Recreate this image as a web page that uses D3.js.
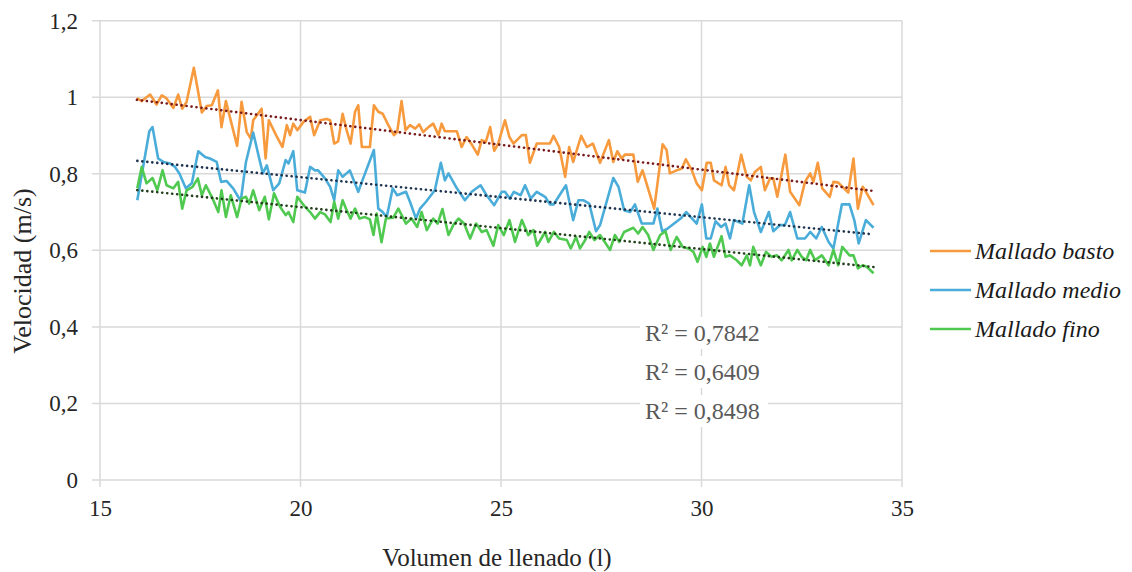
<!DOCTYPE html>
<html><head><meta charset="utf-8">
<script src="https://cdn.jsdelivr.net/npm/d3@7"></script>
<style>body{margin:0;background:#fff}</style>
</head><body>
<svg id="c" width="1132" height="572"></svg>
<script>
const xTicks = [15, 20, 25, 30, 35];
const yTicks = [0, 0.2, 0.4, 0.6, 0.8, 1, 1.2];
const seriesNames = ["Mallado basto", "Mallado medio", "Mallado fino"];
const r2Labels = ["R² = 0,7842", "R² = 0,6409", "R² = 0,8498"];
const xTitle = "Volumen de llenado (l)";
const yTitle = "Velocidad (m/s)";

const basto = [[15.92,0.998],[16.04,0.990],[16.25,1.007],[16.41,0.981],[16.54,1.005],[16.66,0.997],[16.83,0.972],[16.95,1.007],[17.05,0.970],[17.16,0.988],[17.34,1.077],[17.54,0.960],[17.66,0.977],[17.79,0.979],[17.94,1.018],[18.03,0.922],[18.14,0.990],[18.28,0.931],[18.42,0.873],[18.53,0.988],[18.66,0.909],[18.76,0.892],[18.82,0.940],[19.03,0.970],[19.13,0.840],[19.21,0.940],[19.39,0.901],[19.55,0.870],[19.66,0.927],[19.74,0.901],[19.82,0.931],[19.92,0.914],[20.07,0.935],
[20.24,0.949],[20.34,0.901],[20.49,0.940],[20.65,0.943],[20.74,0.940],[20.84,0.879],[20.94,0.885],[21.05,0.957],[21.15,0.914],[21.25,0.879],[21.36,0.962],[21.44,0.979],[21.53,0.870],[21.73,0.870],[21.83,0.979],[21.94,0.962],[22.05,0.957],[22.19,0.927],[22.33,0.901],[22.41,0.909],[22.52,0.990],[22.62,0.914],[22.73,0.927],[22.86,0.918],[22.96,0.929],[23.06,0.909],[23.19,0.922],[23.31,0.931],[23.44,0.901],[23.52,0.931],[23.60,0.911],[23.90,0.911],[24.02,0.870],[24.14,0.896],[24.28,0.875],[24.42,0.850],[24.52,0.888],[24.62,0.883],[24.73,0.922],[24.83,0.860],[24.93,0.879],
[25.10,0.940],[25.21,0.896],[25.31,0.879],[25.52,0.901],[25.62,0.901],[25.72,0.829],[25.89,0.879],[26.22,0.879],[26.31,0.899],[26.45,0.870],[26.60,0.792],[26.70,0.870],[26.80,0.831],[27.00,0.899],[27.14,0.870],[27.29,0.879],[27.47,0.829],[27.69,0.888],[27.80,0.831],[27.90,0.859],[28.01,0.840],[28.09,0.850],[28.30,0.850],[28.41,0.779],[28.53,0.809],[28.82,0.709],[29.03,0.877],[29.13,0.862],[29.21,0.801],[29.38,0.809],[29.51,0.814],[29.61,0.838],[29.76,0.809],[29.88,0.775],
[30.01,0.757],[30.13,0.829],[30.23,0.829],[30.31,0.783],[30.50,0.770],[30.60,0.818],[30.69,0.770],[30.81,0.757],[30.99,0.850],[31.13,0.792],[31.23,0.783],[31.33,0.805],[31.48,0.818],[31.58,0.757],[31.71,0.788],[31.79,0.788],[31.89,0.740],[32.09,0.850],[32.21,0.753],[32.33,0.735],[32.44,0.718],[32.58,0.779],[32.71,0.801],[32.79,0.779],[32.90,0.829],[33.01,0.762],[33.20,0.740],[33.29,0.779],[33.41,0.777],[33.66,0.751],[33.79,0.840],[33.90,0.709],[34.02,0.766],[34.10,0.753],[34.29,0.718]];

const medio = [[15.93,0.731],[16.23,0.911],[16.31,0.922],[16.45,0.840],[16.58,0.831],[16.75,0.827],[16.87,0.818],[16.98,0.801],[17.14,0.762],[17.29,0.775],[17.45,0.859],[17.62,0.844],[17.74,0.840],[17.91,0.831],[18.02,0.779],[18.16,0.781],[18.32,0.762],[18.51,0.729],[18.64,0.831],[18.82,0.908],[18.95,0.849],[19.06,0.801],[19.16,0.822],[19.32,0.757],[19.47,0.775],[19.63,0.836],[19.70,0.827],[19.82,0.859],[19.92,0.757],[20.11,0.751],
[20.24,0.818],[20.36,0.809],[20.44,0.809],[20.61,0.788],[20.74,0.766],[20.84,0.731],[20.94,0.809],[21.05,0.792],[21.23,0.809],[21.44,0.753],[21.53,0.779],[21.83,0.862],[21.94,0.709],[22.05,0.700],[22.15,0.687],[22.30,0.762],[22.41,0.744],[22.63,0.753],[22.73,0.727],[22.88,0.683],[22.98,0.709],[23.13,0.727],[23.35,0.757],[23.50,0.829],[23.60,0.783],[23.69,0.801],[23.90,0.762],[24.10,0.731],[24.27,0.753],[24.49,0.770],[24.64,0.744],[24.83,0.718],[25.02,0.753],
[25.10,0.753],[25.22,0.735],[25.32,0.753],[25.49,0.744],[25.60,0.770],[25.74,0.735],[25.89,0.753],[26.10,0.740],[26.22,0.720],[26.31,0.720],[26.62,0.770],[26.80,0.679],[26.93,0.731],[27.05,0.731],[27.20,0.722],[27.37,0.650],[27.47,0.666],[27.80,0.789],[27.93,0.766],[28.07,0.705],[28.22,0.700],[28.34,0.720],[28.51,0.670],[28.80,0.670],[28.90,0.709],[29.02,0.650],[29.13,0.655],[29.48,0.683],[29.62,0.700],[29.88,0.670],
[30.01,0.720],[30.12,0.631],[30.23,0.631],[30.35,0.676],[30.49,0.661],[30.60,0.670],[30.71,0.631],[30.81,0.679],[31.02,0.670],[31.19,0.770],[31.31,0.700],[31.48,0.648],[31.68,0.700],[31.79,0.650],[31.96,0.666],[32.08,0.666],[32.21,0.700],[32.39,0.631],[32.58,0.631],[32.71,0.648],[32.86,0.631],[33.00,0.661],[33.17,0.622],[33.29,0.605],[33.50,0.720],[33.69,0.720],[33.81,0.679],[33.92,0.618],[34.10,0.679],[34.29,0.659]];

const fino = [[15.93,0.762],[16.04,0.818],[16.16,0.775],[16.31,0.789],[16.43,0.757],[16.56,0.809],[16.66,0.770],[16.83,0.762],[16.95,0.779],[17.05,0.709],[17.16,0.757],[17.31,0.766],[17.44,0.788],[17.54,0.744],[17.64,0.770],[17.81,0.735],[17.95,0.700],[18.03,0.757],[18.14,0.687],[18.26,0.744],[18.42,0.687],[18.53,0.735],[18.64,0.740],[18.72,0.722],[18.82,0.757],[18.97,0.705],[19.11,0.740],[19.21,0.681],[19.34,0.749],[19.49,0.714],[19.63,0.692],[19.70,0.700],[19.82,0.674],[19.92,0.740],[20.11,0.714],
[20.24,0.700],[20.36,0.683],[20.49,0.700],[20.61,0.694],[20.75,0.674],[20.84,0.727],[20.94,0.683],[21.05,0.731],[21.15,0.705],[21.25,0.683],[21.36,0.709],[21.47,0.683],[21.61,0.687],[21.73,0.681],[21.82,0.640],[21.90,0.696],[22.02,0.621],[22.13,0.683],[22.31,0.685],[22.44,0.709],[22.63,0.670],[22.77,0.683],[22.91,0.661],[23.02,0.700],[23.15,0.653],[23.31,0.683],[23.42,0.670],[23.54,0.708],[23.69,0.640],[23.81,0.666],[23.94,0.683],[24.08,0.670],[24.23,0.631],[24.38,0.670],[24.52,0.648],[24.64,0.653],[24.81,0.612],[24.93,0.666],
[25.07,0.640],[25.21,0.679],[25.35,0.622],[25.52,0.679],[25.68,0.640],[25.81,0.653],[25.90,0.612],[26.10,0.648],[26.18,0.622],[26.32,0.648],[26.45,0.631],[26.64,0.627],[26.74,0.605],[26.87,0.635],[26.97,0.605],[27.10,0.627],[27.20,0.648],[27.33,0.627],[27.47,0.640],[27.72,0.601],[27.84,0.640],[27.95,0.622],[28.07,0.648],[28.30,0.659],[28.42,0.644],[28.53,0.661],[28.67,0.640],[28.80,0.601],[28.97,0.640],[29.10,0.650],[29.23,0.601],[29.38,0.635],[29.53,0.609],[29.68,0.605],[29.80,0.596],
[29.90,0.570],[30.03,0.609],[30.12,0.583],[30.21,0.618],[30.31,0.583],[30.50,0.637],[30.60,0.583],[30.71,0.587],[30.88,0.574],[31.00,0.561],[31.13,0.587],[31.21,0.561],[31.29,0.609],[31.48,0.561],[31.61,0.596],[31.75,0.583],[31.88,0.587],[32.00,0.574],[32.17,0.601],[32.25,0.574],[32.39,0.601],[32.50,0.583],[32.61,0.574],[32.71,0.601],[32.83,0.574],[33.00,0.587],[33.17,0.561],[33.29,0.601],[33.41,0.561],[33.51,0.609],[33.69,0.587],[33.79,0.587],[33.90,0.553],[34.02,0.561],[34.12,0.557],[34.29,0.540]];

const colors = ["#F79A3E", "#4AADD9", "#4FC94F"];
const trendColors = ["#7a1a1a", "#1f3550", "#24401c"];
const allSeries = [basto, medio, fino];

const svg = d3.select("#c");
const m = {l: 100, r: 902, t: 20.7, b: 480};
const x = d3.scaleLinear().domain([15, 35]).range([m.l, m.r]);
const y = d3.scaleLinear().domain([0, 1.2]).range([m.b, m.t]);
const grid = "#d9d9d9";
const FS = 24;
const serif = (t, fs) => t.attr("font-family", "Liberation Serif").attr("font-size", fs || FS);

// gridlines
svg.append("g").selectAll("line").data(yTicks).join("line")
  .attr("x1", m.l - 8).attr("x2", m.r).attr("y1", d => y(d)).attr("y2", d => y(d))
  .attr("stroke", grid).attr("stroke-width", 1.5);
svg.append("g").selectAll("line").data(xTicks).join("line")
  .attr("x1", d => x(d)).attr("x2", d => x(d)).attr("y1", m.t).attr("y2", m.b + 7)
  .attr("stroke", grid).attr("stroke-width", 1.5);

// axes labels via d3 axes
const yAxis = svg.append("g").attr("transform", `translate(${m.l - 8},0)`)
  .call(d3.axisLeft(y).tickValues(yTicks).tickSize(0).tickPadding(14)
    .tickFormat(d => String(d).replace(".", ",")));
const xAxis = svg.append("g").attr("transform", `translate(0,${m.b + 7})`)
  .call(d3.axisBottom(x).tickValues(xTicks).tickSize(0).tickPadding(13));
[yAxis, xAxis].forEach(a => {
  a.attr("font-family", "Liberation Serif").attr("font-size", 23);
  a.select(".domain").remove();
  a.selectAll("text").call(serif, 23).attr("fill", "#262626");
});

// series lines
const line = d3.line().x(d => x(d[0])).y(d => y(d[1]));
allSeries.forEach((s, i) => {
  svg.append("path").datum(s).attr("d", line).attr("fill", "none")
    .attr("stroke", colors[i]).attr("stroke-width", 2.6).attr("stroke-linejoin", "round");
});

// linear trendlines (least squares on the data)
allSeries.forEach((s, i) => {
  const n = s.length;
  const mx = d3.mean(s, d => d[0]), my = d3.mean(s, d => d[1]);
  const sxy = d3.sum(s, d => (d[0] - mx) * (d[1] - my));
  const sxx = d3.sum(s, d => (d[0] - mx) ** 2);
  const b = sxy / sxx, a = my - b * mx;
  const x0 = s[0][0], x1 = s[n - 1][0];
  svg.append("line").attr("x1", x(x0)).attr("y1", y(a + b * x0))
    .attr("x2", x(x1)).attr("y2", y(a + b * x1))
    .attr("stroke", trendColors[i]).attr("stroke-width", 2.6)
    .attr("stroke-dasharray", "0.1 4.9").attr("stroke-linecap", "round");
});

// R² labels
const r2g = svg.append("g");
r2Labels.forEach((t, i) => {
  const yy = 333 + i * 39;
  r2g.append("rect").attr("x", 640).attr("y", yy - 16).attr("width", 128).attr("height", 32).attr("fill", "#fff");
});
r2Labels.forEach((t, i) => {
  r2g.append("text").attr("x", 645).attr("y", 333 + i * 39).attr("dy", "0.35em")
    .call(serif).attr("fill", "#595959").text(t);
});

// legend
seriesNames.forEach((nm, i) => {
  const yy = 251 + i * 39;
  svg.append("line").attr("x1", 930).attr("x2", 971).attr("y1", yy).attr("y2", yy)
    .attr("stroke", colors[i]).attr("stroke-width", 2.6);
  svg.append("text").attr("x", 975).attr("y", yy).attr("dy", "0.35em")
    .call(serif).attr("font-style", "italic").attr("fill", "#1a1a1a").text(nm);
});

// titles
svg.append("text").attr("x", 497).attr("y", 557).attr("dy", "0.35em").attr("text-anchor", "middle")
  .call(serif, 25).attr("fill", "#262626").text(xTitle);
svg.append("text").attr("transform", "translate(22,271) rotate(-90)").attr("dy", "0.35em")
  .attr("text-anchor", "middle").call(serif, 26).attr("fill", "#262626").text(yTitle);
</script>
</body></html>
